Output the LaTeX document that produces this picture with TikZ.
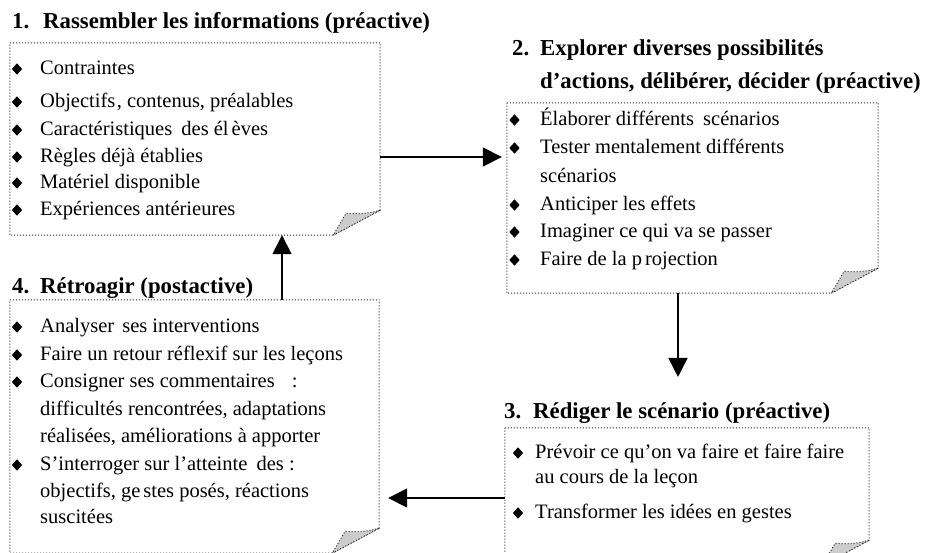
\documentclass[tikz,border=0pt]{standalone}
\usepackage{fontspec}
\setmainfont{Liberation Serif}
\usetikzlibrary{arrows.meta,calc,shapes.geometric}
\definecolor{flapgray}{HTML}{CCCCCC}
\tikzset{
  txt/.style={anchor=base west, inner sep=0pt, font=\fontsize{20.5}{24}\selectfont},
  ttl/.style={anchor=base west, inner sep=0pt, font=\fontsize{22.8}{27}\selectfont\bfseries},
  bul/.style={diamond, fill=black, inner sep=0pt, minimum width=10.5pt, minimum height=11.5pt},
  boxn/.style={rectangle, inner sep=0pt},
  dotline/.style={line width=1pt, dash pattern=on 1pt off 2pt, draw=black!85},
  arr/.style={line width=1.6pt, -{Triangle[length=19pt, width=19pt]}},
}
\newcommand{\foldbox}[1]{%
  \draw[dotline] (#1.north west) -- (#1.north east) -- ($(#1.south east)+(0,-25)$) coordinate (#1A)
     -- ($(#1.south east)+(-47,0)$) coordinate (#1C) -- (#1.south west) -- cycle;
  \filldraw[dotline, fill=flapgray] (#1A) to[bend left=10] ($(#1.south east)+(-34,-22)$) coordinate (#1T) -- (#1C) -- cycle;
}
\begin{document}
\begin{tikzpicture}[x=1pt, y=-1pt]
\useasboundingbox (0,0) rectangle (932,552);
\clip (0,0) rectangle (932,552);
% boxes
\node[boxn, minimum width=370pt, minimum height=192pt] (b1) at (195,139) {};
\node[boxn, minimum width=371pt, minimum height=190pt] (b2) at (692.5,198) {};
\node[boxn, minimum width=364pt, minimum height=137pt] (b3) at (687,496.5) {};
\node[boxn, minimum width=369pt, minimum height=253pt] (b4) at (194.5,426.5) {};
\foldbox{b1}
\foldbox{b2}
\foldbox{b3}
\foldbox{b4}
% titles
\node[ttl] (t1) at (12,28) {\makebox[31pt][l]{1.}Rassembler les informations (préactive)};
\node[ttl] (t2a) at (512,55) {\makebox[28pt][l]{2.}Explorer diverses possibilités};
\node[ttl] (t2b) at (540,88) {d’actions, délibérer, décider (préactive)};
\node[ttl] (t3) at (504,418) {\makebox[29pt][l]{3.}Rédiger le scénario (préactive)};
\node[ttl] (t4) at (12,293) {\makebox[28pt][l]{4.}Rétroagir (postactive)};
% box 1
\node[txt] (l11) at (40,74) {Contraintes};
\node[txt] (l12) at (40,107) {Objectifs\hspace{1.5pt}, contenus, préalables};
\node[txt] (l13) at (40,135) {Caractéristiques\hspace{4pt} des él\hspace{3pt}èves};
\node[txt] (l14) at (40,162) {Règles déjà établies};
\node[txt] (l15) at (40,188) {Matériel disponible};
\node[txt] (l16) at (40,215) {Expériences antérieures};
\foreach \y [count=\i] in {74,107,135,162,188,215}
  \node[bul] (d1\i) at (17,\y-5) {};
% box 2
\node[txt] (l21) at (540,125) {Élaborer différents\hspace{4pt} scénarios};
\node[txt] (l22) at (540,153) {Tester mentalement différents};
\node[txt] (l23) at (540,182) {scénarios};
\node[txt] (l24) at (540,210) {Anticiper les effets};
\node[txt] (l25) at (540,237) {Imaginer ce qui va se passer};
\node[txt] (l26) at (540,265) {Faire de la p\hspace{3pt}rojection};
\foreach \y [count=\i] in {125,153,210,237,265}
  \node[bul] (d2\i) at (514.5,\y-5) {};
% box 3
\node[txt] (l31) at (535,458) {Prévoir ce qu’on va faire et faire faire};
\node[txt] (l32) at (535,483) {au cours de la leçon};
\node[txt] (l33) at (535,518) {Transformer les idées en gestes};
\foreach \y [count=\i] in {458,518}
  \node[bul] (d3\i) at (518,\y-5) {};
% box 4
\node[txt] (l41) at (40,332) {Analyser\hspace{3pt} ses interventions};
\node[txt] (l42) at (40,360) {Faire un retour réflexif sur les leçons};
\node[txt] (l43) at (40,387) {Consigner ses commentaires\hspace{12pt} :};
\node[txt] (l44) at (40,415) {difficultés rencontrées, adaptations};
\node[txt] (l45) at (40,442) {réalisées, améliorations à apporter};
\node[txt] (l46) at (40,470) {S’interroger sur l’atteinte\hspace{4pt} des :};
\node[txt] (l47) at (40,497) {objectifs, ge\hspace{3pt}stes posés, réactions};
\node[txt] (l48) at (40,523) {suscitées};
\foreach \y [count=\i] in {332,360,387,470}
  \node[bul] (d4\i) at (17,\y-5) {};
% arrows
\draw[arr, shorten >=5pt] ($(b1.east)+(0,18)$) coordinate (p12) -- (p12 -| b2.west);
\draw[arr, shorten >=25pt] ($(b2.south)+(-14.5,0)$) coordinate (p23) -- (p23 |- t3.north);
\draw[arr, shorten >=9pt] ($(b3.west)+(0,1.5)$) coordinate (p34) -- (p34 -| b4.east);
\draw[arr] ($(b4.north)+(87.5,0)$) coordinate (p41) -- (p41 |- b1.south);
\end{tikzpicture}
\end{document}
